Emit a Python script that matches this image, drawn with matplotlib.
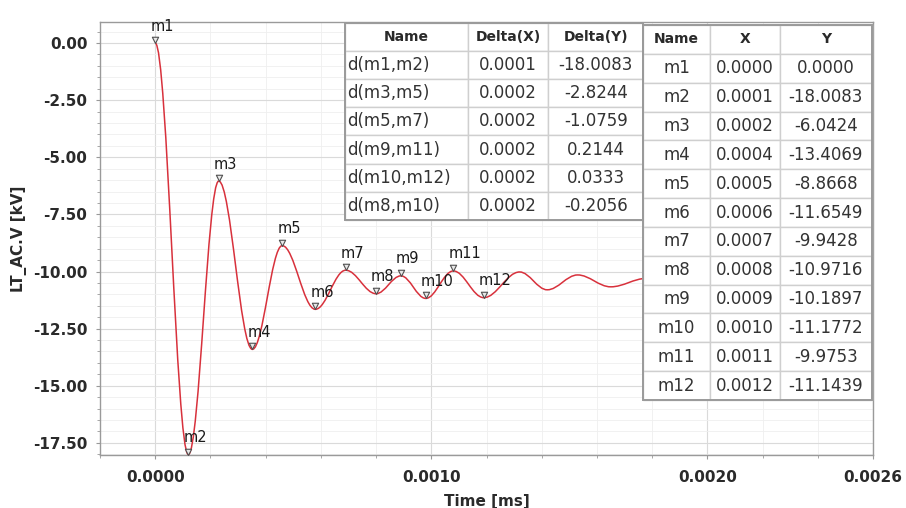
import matplotlib
matplotlib.use("Agg")
import matplotlib.pyplot as plt
from matplotlib.path import Path
from matplotlib.patches import PathPatch, Rectangle
from matplotlib.ticker import MultipleLocator, FixedLocator, FormatStrFormatter
from matplotlib.table import Table

# ---- waveform turning points (time in ms, voltage in kV) ----
wave_t = [0.0, 0.00012, 0.00023, 0.000352, 0.00046, 0.00058, 0.00069, 0.00080,
          0.00089, 0.00098, 0.00108, 0.00119, 0.00132, 0.00142, 0.00153, 0.00165,
          0.00178, 0.00190, 0.00202, 0.00214, 0.00226, 0.00238, 0.00250, 0.00260]
wave_v = [0.0, -18.0083, -6.0424, -13.4069, -8.8668, -11.6549, -9.9428, -10.9716,
          -10.1897, -11.1772, -9.9753, -11.1439, -10.02, -10.80, -10.15, -10.67,
          -10.30, -10.60, -10.38, -10.55, -10.42, -10.52, -10.45, -10.50]

# ---- markers ----
marker_names = ["m1", "m2", "m3", "m4", "m5", "m6", "m7", "m8", "m9", "m10", "m11", "m12"]
marker_t = wave_t[:12]
marker_v = wave_v[:12]

# ---- delta table ----
delta_names = ["d(m1,m2)", "d(m3,m5)", "d(m5,m7)", "d(m9,m11)", "d(m10,m12)", "d(m8,m10)"]
delta_x = [0.0001, 0.0002, 0.0002, 0.0002, 0.0002, 0.0002]
delta_y = [-18.0083, -2.8244, -1.0759, 0.2144, 0.0333, -0.2056]

# ---- axis ticks ----
x_ticks = [0.0, 0.0010, 0.0020, 0.0026]
y_ticks = [0.0, -2.5, -5.0, -7.5, -10.0, -12.5, -15.0, -17.5]

LINE_RED = "#d8313c"
TXT = "#2a2a2a"
GRID_MAJ = "#dadada"
GRID_MIN = "#efefef"

fig = plt.figure(figsize=(9.06, 5.08), dpi=100)
ax = fig.add_axes([100 / 906, 1 - 455 / 508, 773 / 906, 433 / 508])
ax.set_xlim(-0.0002, 0.0026)
ax.set_ylim(-18.03, 0.92)

# smooth waveform: cubic segments with flat tangents at every turning point
k = 0.3642
verts = [(wave_t[0], wave_v[0])]
codes = [Path.MOVETO]
for (t0, v0), (t1, v1) in zip(zip(wave_t[:-1], wave_v[:-1]), zip(wave_t[1:], wave_v[1:])):
    dt = t1 - t0
    verts += [(t0 + k * dt, v0), (t1 - k * dt, v1), (t1, v1)]
    codes += [Path.CURVE4] * 3
ax.add_patch(PathPatch(Path(verts, codes), fill=False, edgecolor=LINE_RED,
                       lw=1.1, zorder=3, transform=ax.transData))

# marker symbols: small downward triangles with the tip on the point
tri = Path([(-1, 2), (1, 2), (0, 0), (-1, 2)],
           [Path.MOVETO, Path.LINETO, Path.LINETO, Path.CLOSEPOLY])
ax.plot(marker_t, marker_v, linestyle="none", marker=tri, ms=9,
        mfc="#e8e8e8", mec="#505050", mew=0.8, zorder=4)
for name, t, v in zip(marker_names, marker_t, marker_v):
    ax.annotate(name, (t, v), xytext=(-5, 17), textcoords="offset pixels",
                ha="left", va="center", fontsize=10.5, color="#1a1a1a", zorder=6)

# axes styling
ax.xaxis.set_major_locator(FixedLocator(x_ticks))
ax.xaxis.set_major_formatter(FormatStrFormatter("%.4f"))
ax.xaxis.set_minor_locator(MultipleLocator(0.0002))
ax.yaxis.set_major_locator(FixedLocator(y_ticks))
ax.yaxis.set_major_formatter(FormatStrFormatter("%.2f"))
ax.yaxis.set_minor_locator(MultipleLocator(0.5))
ax.grid(which="major", color=GRID_MAJ, lw=0.8)
ax.grid(which="minor", color=GRID_MIN, lw=0.6)
ax.set_axisbelow(True)
ax.tick_params(which="both", length=3, color="#999999", labelsize=11,
               labelcolor=TXT)
ax.tick_params(axis="x", which="major", pad=8)
ax.tick_params(axis="y", which="major", pad=6)
ax.tick_params(which="minor", length=2)
for lab in ax.get_xticklabels() + ax.get_yticklabels():
    lab.set_fontweight("bold")
for sp in ax.spines.values():
    sp.set_color("#9a9a9a")
    sp.set_linewidth(1.0)

ax.set_xlabel("Time [ms]", fontsize=11, fontweight="bold", color=TXT, labelpad=6)
ax.set_ylabel("LT_AC.V [kV]", fontsize=11, fontweight="bold", color=TXT, labelpad=4)


def make_table(header, rows, bbox, widths, aligns, body_size=12, head_size=10):
    tb = Table(ax, bbox=bbox)
    h = 1.0 / (len(rows) + 1)
    for j, name in enumerate(header):
        c = tb.add_cell(0, j, widths[j], h, text=name, loc="center",
                        facecolor="white", edgecolor="#cfcfcf")
        c.get_text().set_fontweight("bold")
        c.get_text().set_fontsize(head_size)
        c.get_text().set_color(TXT)
    for i, row in enumerate(rows, start=1):
        for j, val in enumerate(row):
            c = tb.add_cell(i, j, widths[j], h, text=val, loc=aligns[j],
                            facecolor="white", edgecolor="#cfcfcf")
            c.PAD = 0.02
            c.get_text().set_fontsize(body_size)
            c.get_text().set_color("#333333")
    tb.auto_set_font_size(False)
    tb.set_zorder(7)
    ax.add_table(tb)
    x0, y0, w, hh = bbox
    ax.add_patch(Rectangle((x0, y0), w, hh, transform=ax.transAxes, fill=False,
                           edgecolor="#9a9a9a", lw=1.4, zorder=8, clip_on=False))
    return tb


delta_rows = [[n, f"{dx:.4f}", f"{dy:.4f}"] for n, dx, dy in zip(delta_names, delta_x, delta_y)]
make_table(["Name", "Delta(X)", "Delta(Y)"], delta_rows,
           [0.317, 0.543, 0.386, 0.455], [123, 80, 95], ["left", "center", "center"])

marker_rows = [[n, f"{t:.4f}", f"{v:.4f}"] for n, t, v in zip(marker_names, marker_t, marker_v)]
make_table(["Name", "X", "Y"], marker_rows,
           [0.7025, 0.127, 0.296, 0.866], [67, 70, 92], ["center", "center", "center"])

fig.savefig("out.png", dpi=100)
